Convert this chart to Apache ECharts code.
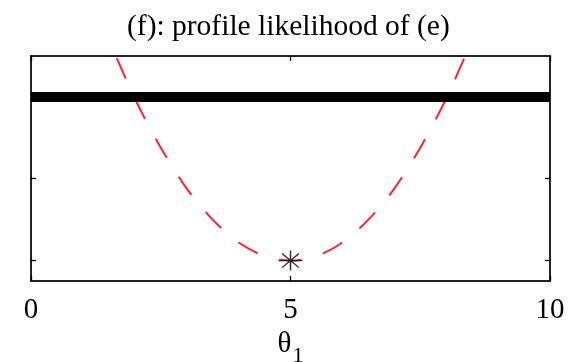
<!DOCTYPE html>
<html>
<head>
<meta charset="utf-8">
<script src="https://cdn.jsdelivr.net/npm/echarts@6/dist/echarts.min.js"></script>
<style>
  html, body { margin: 0; padding: 0; background: #fff; }
  #chart { width: 571px; height: 362px; }
</style>
</head>
<body>
<div id="chart"></div>
<script>
// theta_1 grid and the profile likelihood curve (red dashed)
const theta = [1.5, 2.0, 2.5, 3.0, 3.5, 4.0, 4.5, 5.0, 5.5, 6.0, 6.5, 7.0, 7.5, 8.0, 8.5];
const profile = [2.70, 1.98, 1.38, 0.88, 0.50, 0.22, 0.055, 0.0, 0.055, 0.22, 0.50, 0.88, 1.38, 1.98, 2.70];

// horizontal reference level (thick black line)
const levelX = [0, 10];
const levelY = 2;

// maximiser marked with an asterisk
const best = [5, 0];

// axis ticks
const xTicks = [0, 5, 10];
const yTicks = [0, 1, 2];

const serif = '"Liberation Serif", "DejaVu Serif", serif';

const chart = echarts.init(document.getElementById('chart'));

const tickStyle = { show: true, inside: true, length: 5, lineStyle: { color: '#000', width: 1.3 } };
const hiddenLine = { show: false, onZero: false };

chart.setOption({
  animation: false,
  title: {
    text: '(f): profile likelihood of (e)',
    left: 122,
    top: 7,
    textStyle: { fontFamily: serif, fontSize: 29.5, fontWeight: 'normal', color: '#000' }
  },
  grid: {
    left: 31, right: 21, top: 56, bottom: 81,
    outerBoundsMode: 'none',
    containLabel: false,
    show: true, borderColor: '#222', borderWidth: 2
  },
  xAxis: [{
    type: 'value', min: 0, max: 10, interval: 5, position: 'bottom',
    axisLine: hiddenLine,
    splitLine: { show: false },
    axisTick: Object.assign({ customValues: xTicks }, tickStyle),
    axisLabel: {
      customValues: xTicks, margin: 15, color: '#000',
      fontFamily: serif, fontSize: 29
    },
    name: '{t|θ}{s|1}',
    nameLocation: 'middle',
    nameGap: 37,
    nameTextStyle: {
      rich: {
        t: { fontFamily: serif, fontSize: 29, color: '#000', verticalAlign: 'top', lineHeight: 30 },
        s: { fontFamily: serif, fontSize: 22, color: '#000', verticalAlign: 'top', lineHeight: 30, padding: [15, 0, 0, 1] }
      }
    }
  }, {
    type: 'value', min: 0, max: 10, interval: 5, position: 'top',
    axisLine: hiddenLine,
    splitLine: { show: false },
    axisTick: Object.assign({ customValues: xTicks }, tickStyle),
    axisLabel: { show: false }
  }],
  yAxis: [{
    type: 'value', min: -0.25, max: 2.5, position: 'left',
    axisLine: hiddenLine,
    splitLine: { show: false },
    axisTick: Object.assign({ customValues: yTicks }, tickStyle),
    axisLabel: { show: false }
  }, {
    type: 'value', min: -0.25, max: 2.5, position: 'right',
    axisLine: hiddenLine,
    splitLine: { show: false },
    axisTick: Object.assign({ customValues: yTicks }, tickStyle),
    axisLabel: { show: false }
  }],
  series: [{
    name: 'level',
    type: 'line',
    data: levelX.map(x => [x, levelY]),
    symbol: 'none',
    lineStyle: { color: '#000', width: 10 },
    z: 3
  }, {
    name: 'profile',
    type: 'line',
    data: theta.map((t, i) => [t, profile[i]]),
    symbol: 'none',
    smooth: 0.3,
    lineStyle: { color: '#ff2030', width: 2, type: [22.3, 22.3], dashOffset: 24.35 },
    z: 2
  }, {
    name: 'maximum',
    type: 'scatter',
    data: [best],
    symbol: 'path://M12,0V24M0,12H24M3.5,3.5L20.5,20.5M3.5,20.5L20.5,3.5',
    symbolSize: [24, 20],
    itemStyle: { color: 'rgba(0,0,0,0)', borderColor: '#000', borderWidth: 1.4 },
    z: 5
  }]
});
</script>
</body>
</html>
